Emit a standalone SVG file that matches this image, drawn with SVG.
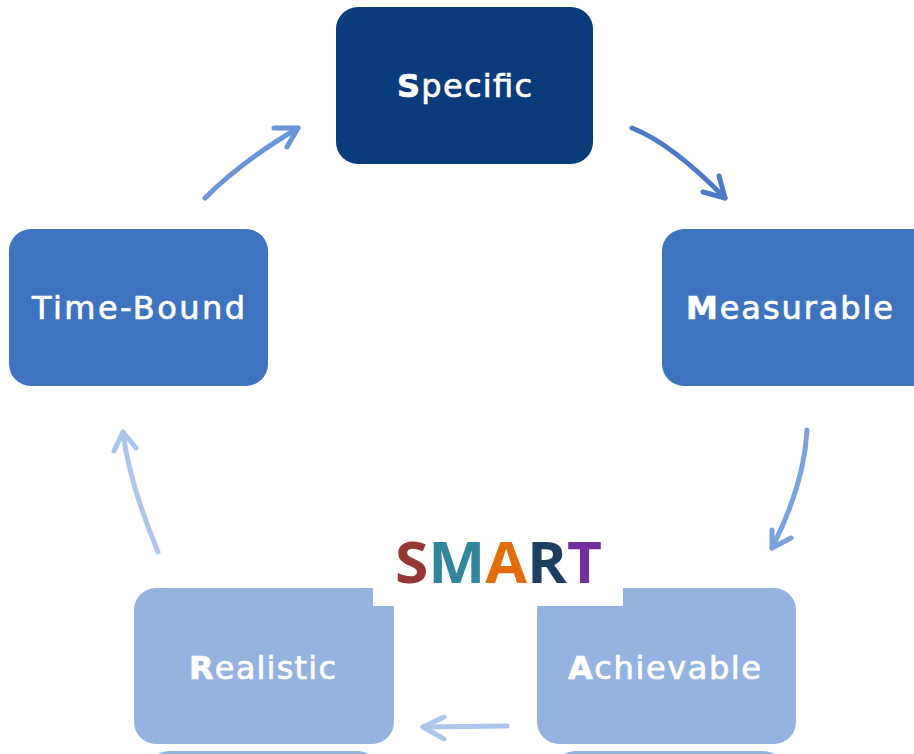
<svg xmlns="http://www.w3.org/2000/svg" width="914" height="754" viewBox="0 0 914 754">
<style>
.lbl{font-family:"DejaVu Sans","Liberation Sans",sans-serif;font-size:32px;fill:#ffffff;stroke:#ffffff;stroke-width:0.7px}
.b{font-weight:bold}
.arr{fill:none;stroke-width:5;stroke-linecap:round;stroke-linejoin:round}
.smart{font-family:"Open Sans","Liberation Sans",sans-serif;font-weight:bold;font-size:58px}
</style>
<rect width="914" height="754" fill="#ffffff"/>
<g id="connectors">
<g stroke="#5b8ad4" class="arr" opacity="0.9">
<path d="M205,198 Q242,161 298,128"/>
<polyline points="274,128 298,128 287,147"/>
</g>
<g stroke="#3a6bc0" class="arr" opacity="0.9">
<path d="M632,128 Q671,143 725,198"/>
<polyline points="719,176 725,198 703,192"/>
</g>
<g stroke="#6b98dc" class="arr" opacity="0.9">
<path d="M807,430 Q804,485 772,548"/>
<polyline points="772,530 772,548 791,538"/>
</g>
<g stroke="#abc4eb" class="arr" opacity="0.95">
<path d="M507,726 L423,727"/>
<polyline points="444,717 423,727 444,739"/>
</g>
<g stroke="#a8c2ec" class="arr" opacity="0.95">
<path d="M158,552 Q129,482 123,432"/>
<polyline points="114,451 123,432 136,448"/>
</g>
</g>
<g id="node-specific">
<rect x="336" y="7" width="257" height="157" rx="22" fill="#0a3b7b"/>
<text class="lbl" x="397" y="97" textLength="135" lengthAdjust="spacing"><tspan class="b">S</tspan>pecific</text>
</g>
<g id="node-measurable">
<rect x="662" y="229" width="280" height="157" rx="22" fill="#3e73bf"/>
<text class="lbl" x="686" y="319" textLength="207" lengthAdjust="spacing"><tspan class="b">M</tspan>easurable</text>
</g>
<g id="node-timebound">
<rect x="9" y="229" width="259" height="157" rx="22" fill="#3e73bf"/>
<text class="lbl" x="32" y="319" textLength="213" lengthAdjust="spacing">Time-Bound</text>
</g>
<g id="node-next-left">
<rect x="149" y="751" width="229" height="40" rx="20" fill="#95b3e0"/>
</g>
<g id="node-next-right">
<rect x="555" y="751" width="229" height="40" rx="20" fill="#95b3e0"/>
</g>
<g id="node-realistic">
<rect x="134" y="588" width="260" height="156" rx="22" fill="#95b3e0"/>
</g>
<g id="node-achievable">
<rect x="537" y="588" width="259" height="156" rx="22" fill="#95b3e0"/>
</g>
<g id="smart-label">
<rect x="373" y="525" width="250" height="81" fill="#ffffff"/>
<text class="smart" x="395" y="583" textLength="207" lengthAdjust="spacingAndGlyphs"><tspan fill="#953735">S</tspan><tspan fill="#31859c">M</tspan><tspan fill="#e46c0a">A</tspan><tspan fill="#1f3f62">R</tspan><tspan fill="#7030a0">T</tspan></text>
</g>
<text class="lbl" x="189" y="679" textLength="147" lengthAdjust="spacing"><tspan class="b">R</tspan>ealistic</text>
<text class="lbl" x="568" y="679" textLength="193" lengthAdjust="spacing"><tspan class="b">A</tspan>chievable</text>
</svg>
